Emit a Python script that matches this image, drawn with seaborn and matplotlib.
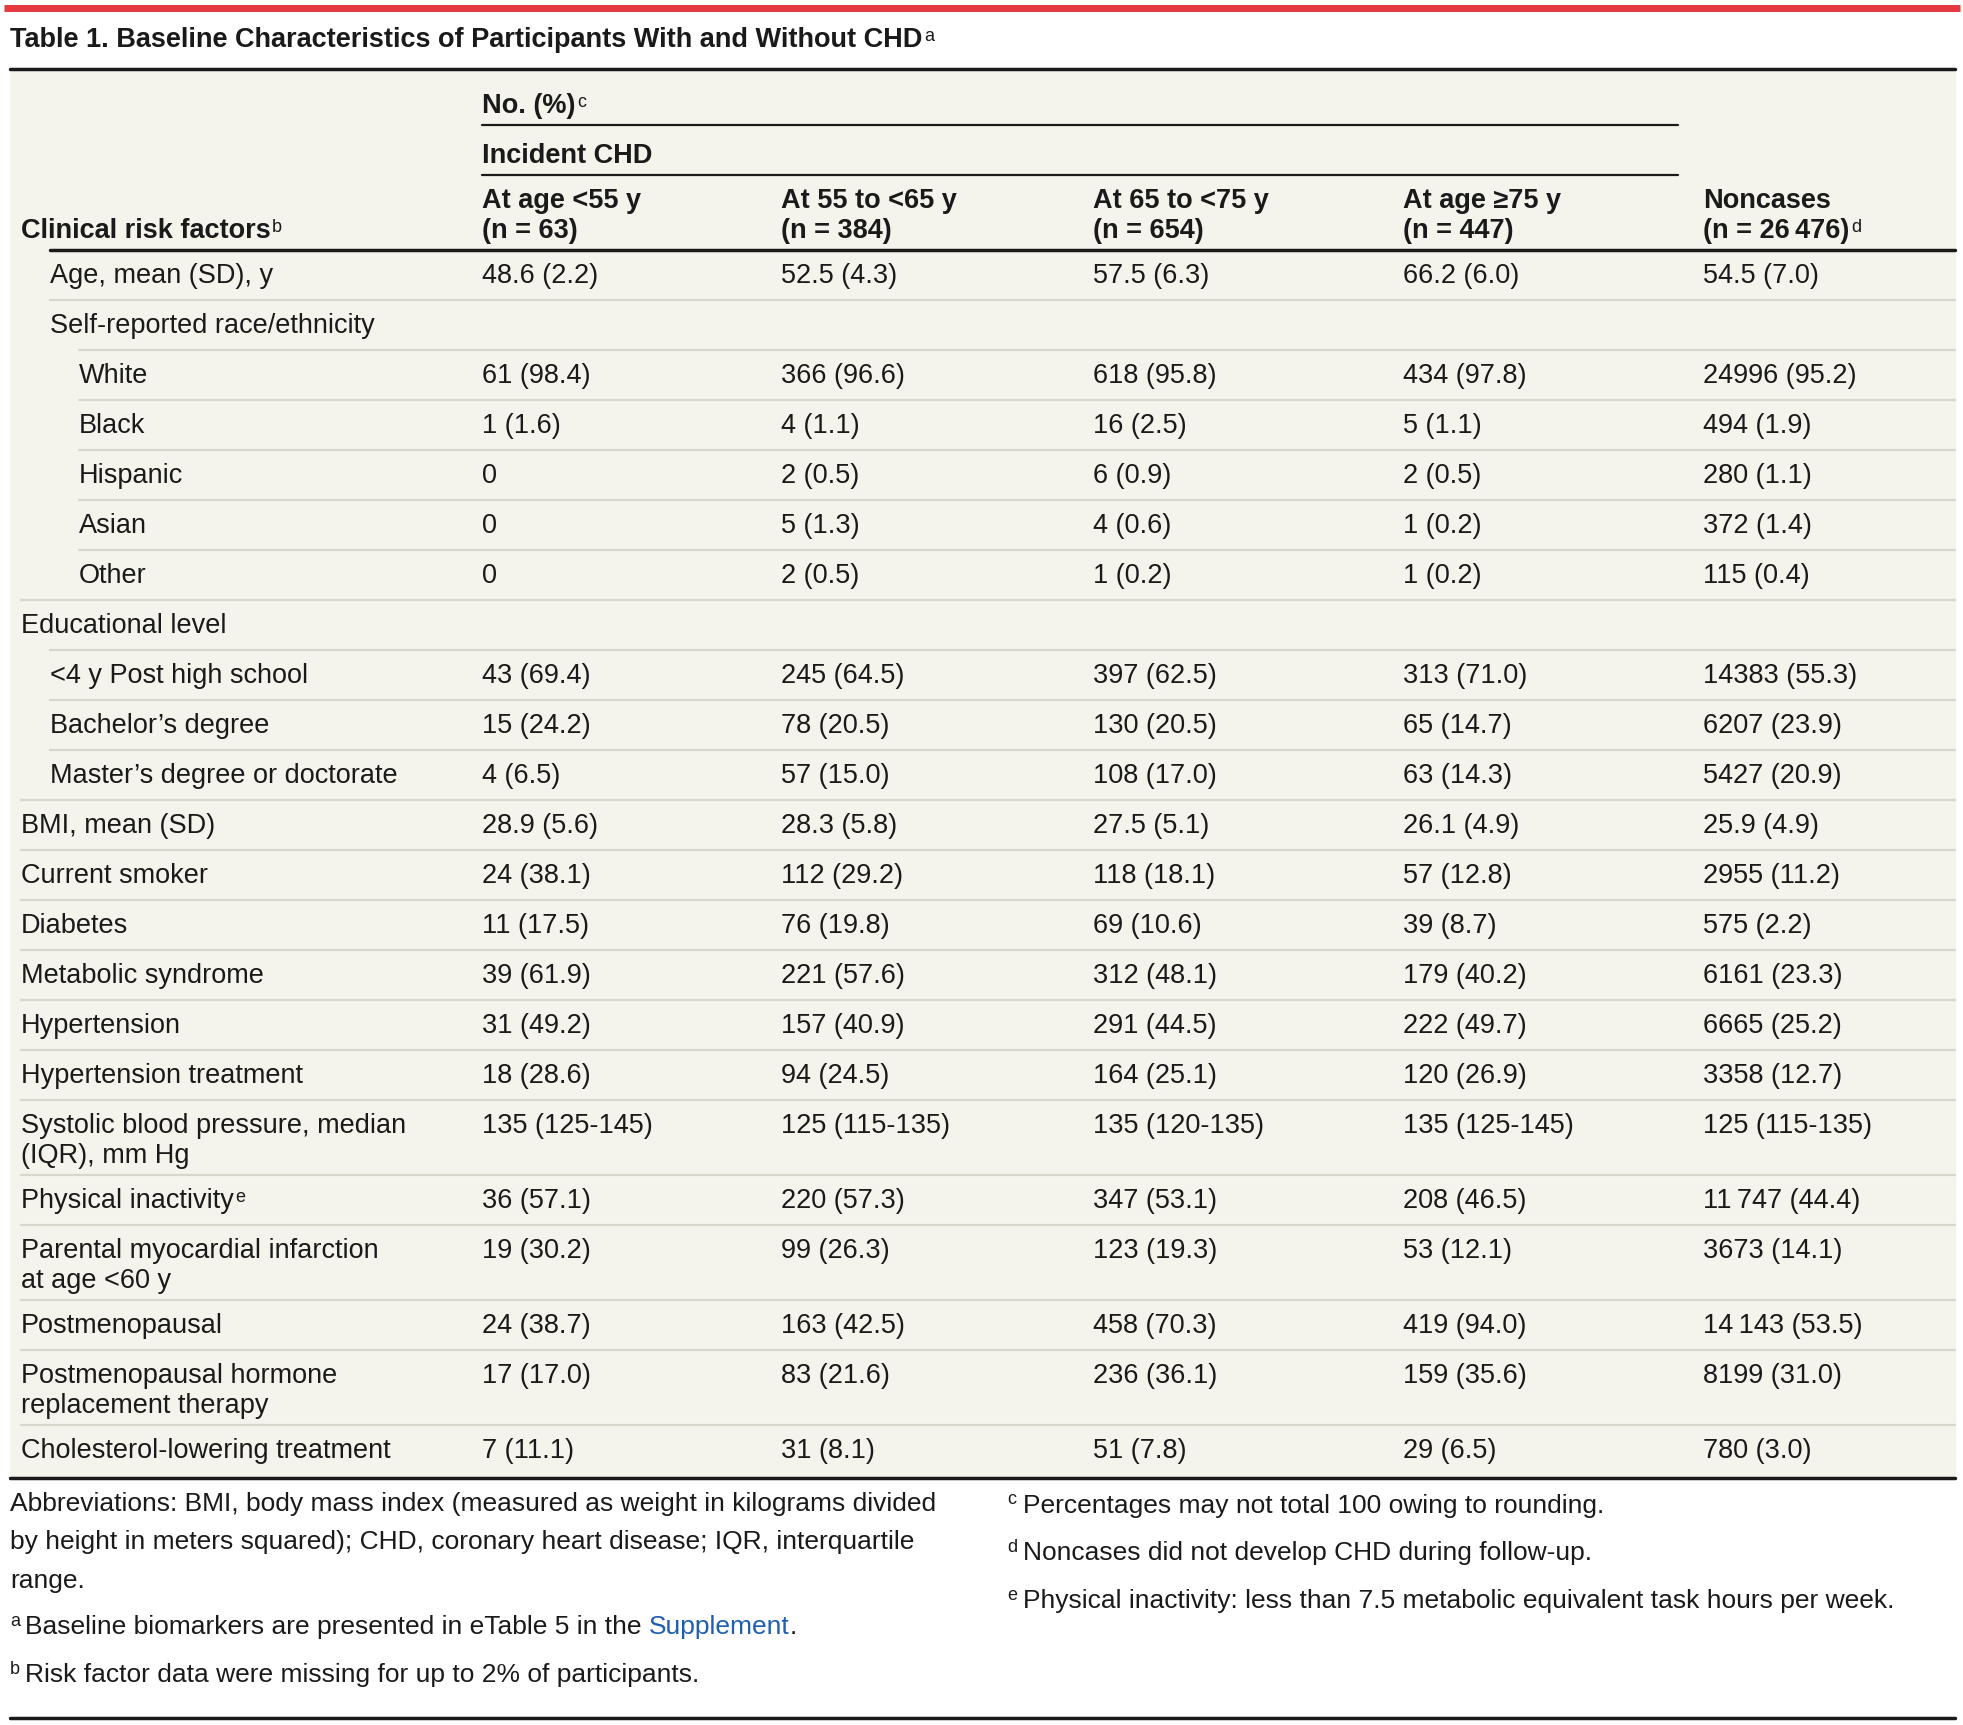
import matplotlib
matplotlib.use("Agg")
import matplotlib.pyplot as plt
import seaborn as sns
from matplotlib.patches import Rectangle

# table content
title = "Table 1. Baseline Characteristics of Participants With and Without CHD"
col_heads = ["At age <55 y\n(n = 63)", "At 55 to <65 y\n(n = 384)", "At 65 to <75 y\n(n = 654)",
             "At age \u226575 y\n(n = 447)", "Noncases\n(n = 26\u2009476)"]

row_labels = ["Age, mean (SD), y", "Self-reported race/ethnicity", "White", "Black", "Hispanic",
              "Asian", "Other", "Educational level", "<4 y Post high school", "Bachelor\u2019s degree",
              "Master\u2019s degree or doctorate", "BMI, mean (SD)", "Current smoker", "Diabetes",
              "Metabolic syndrome", "Hypertension", "Hypertension treatment",
              "Systolic blood pressure, median\n(IQR), mm Hg", "Physical inactivity",
              "Parental myocardial infarction\nat age <60 y", "Postmenopausal",
              "Postmenopausal hormone\nreplacement therapy", "Cholesterol-lowering treatment"]
row_levels = [1, 1, 2, 2, 2, 2, 2, 0, 1, 1, 1, 0, 0, 0, 0, 0, 0, 0, 0, 0, 0, 0, 0]
row_sups = {18: "e"}

chd_lt55 = ["48.6 (2.2)", "", "61 (98.4)", "1 (1.6)", "0", "0", "0", "", "43 (69.4)", "15 (24.2)",
            "4 (6.5)", "28.9 (5.6)", "24 (38.1)", "11 (17.5)", "39 (61.9)", "31 (49.2)", "18 (28.6)",
            "135 (125-145)", "36 (57.1)", "19 (30.2)", "24 (38.7)", "17 (17.0)", "7 (11.1)"]
chd_55_65 = ["52.5 (4.3)", "", "366 (96.6)", "4 (1.1)", "2 (0.5)", "5 (1.3)", "2 (0.5)", "", "245 (64.5)",
             "78 (20.5)", "57 (15.0)", "28.3 (5.8)", "112 (29.2)", "76 (19.8)", "221 (57.6)", "157 (40.9)",
             "94 (24.5)", "125 (115-135)", "220 (57.3)", "99 (26.3)", "163 (42.5)", "83 (21.6)", "31 (8.1)"]
chd_65_75 = ["57.5 (6.3)", "", "618 (95.8)", "16 (2.5)", "6 (0.9)", "4 (0.6)", "1 (0.2)", "", "397 (62.5)",
             "130 (20.5)", "108 (17.0)", "27.5 (5.1)", "118 (18.1)", "69 (10.6)", "312 (48.1)", "291 (44.5)",
             "164 (25.1)", "135 (120-135)", "347 (53.1)", "123 (19.3)", "458 (70.3)", "236 (36.1)", "51 (7.8)"]
chd_ge75 = ["66.2 (6.0)", "", "434 (97.8)", "5 (1.1)", "2 (0.5)", "1 (0.2)", "1 (0.2)", "", "313 (71.0)",
            "65 (14.7)", "63 (14.3)", "26.1 (4.9)", "57 (12.8)", "39 (8.7)", "179 (40.2)", "222 (49.7)",
            "120 (26.9)", "135 (125-145)", "208 (46.5)", "53 (12.1)", "419 (94.0)", "159 (35.6)", "29 (6.5)"]
noncases = ["54.5 (7.0)", "", "24996 (95.2)", "494 (1.9)", "280 (1.1)", "372 (1.4)", "115 (0.4)", "",
            "14383 (55.3)", "6207 (23.9)", "5427 (20.9)", "25.9 (4.9)", "2955 (11.2)", "575 (2.2)",
            "6161 (23.3)", "6665 (25.2)", "3358 (12.7)", "125 (115-135)", "11\u2009747 (44.4)",
            "3673 (14.1)", "14\u2009143 (53.5)", "8199 (31.0)", "780 (3.0)"]
columns = [chd_lt55, chd_55_65, chd_65_75, chd_ge75, noncases]

abbrev_lines = ["Abbreviations: BMI, body mass index (measured as weight in kilograms divided",
                "by height in meters squared); CHD, coronary heart disease; IQR, interquartile",
                "range."]
notes_left = [("a", "Baseline biomarkers are presented in eTable 5 in the "),
              ("b", "Risk factor data were missing for up to 2% of participants.")]
notes_right = [("c", "Percentages may not total 100 owing to rounding."),
               ("d", "Noncases did not develop CHD during follow-up."),
               ("e", "Physical inactivity: less than 7.5 metabolic equivalent task hours per week.")]

sns.set_theme(style="white")
plt.rcParams["font.family"] = ["Liberation Sans", "DejaVu Sans"]

BEIGE = "#f4f3ec"
GRID = "#d9d6cb"
INK = "#1a1a1a"
FS = 19.5
SUP = 13

fig = plt.figure(figsize=(19.63, 17.25), dpi=100)
ax = fig.add_axes([0, 0, 1, 1])
ax.set_xlim(0, 1963)
ax.set_ylim(1725, 0)
ax.axis("off")


def sup_after(art, s, dy=-1):
    return ax.annotate(s, xy=(1, 1), xycoords=art, xytext=(1, dy), textcoords="offset points",
                       ha="left", va="top", fontsize=SUP, color=INK)


# top rule + title
ax.plot([4, 1960], [8, 8], color="#e5383f", lw=5, solid_capstyle="butt")
t = ax.text(10, 40, title, fontsize=19.5, fontweight="bold", va="center", color=INK)
sup_after(t, "a")
ax.plot([10, 1955], [69, 69], color=INK, lw=2.5)

# table body
table_top, table_bot = 250, 1478
ax.add_patch(Rectangle((10, 69), 1945, table_bot - 69, color=BEIGE, zorder=0))

col_x = [482, 781, 1093, 1403, 1703]
lvl_x = [21, 50, 79]

t = ax.text(col_x[0], 106, "No. (%)", fontsize=FS, fontweight="bold", va="center", color=INK)
sup_after(t, "c")
ax.plot([col_x[0], 1678], [125, 125], color=INK, lw=1.6)
ax.text(col_x[0], 156, "Incident CHD", fontsize=FS, fontweight="bold", va="center", color=INK)
ax.plot([col_x[0], 1678], [175, 175], color=INK, lw=1.6)
for x, h in zip(col_x, col_heads):
    top, bot = h.split("\n")
    ax.text(x, 201, top, fontsize=FS, fontweight="bold", va="center", color=INK)
    b = ax.text(x, 231, bot, fontsize=FS, fontweight="bold", va="center", color=INK)
    if h.startswith("Noncases"):
        sup_after(b, "d")
t = ax.text(lvl_x[0], 231, "Clinical risk factors", fontsize=FS, fontweight="bold", va="center", color=INK)
sup_after(t, "b")
ax.plot([50, 1955], [table_top, table_top], color=INK, lw=2.5)

y = table_top
for i, lab in enumerate(row_labels):
    parts = lab.split("\n")
    h = 50 if len(parts) == 1 else 75
    if i > 0:
        ax.plot([lvl_x[row_levels[i]], 1955], [y, y], color=GRID, lw=1.6, zorder=1)
    for k, p in enumerate(parts):
        t = ax.text(lvl_x[row_levels[i]], y + 26 + 30 * k, p, fontsize=FS, va="center", color=INK)
    if i in row_sups:
        sup_after(t, row_sups[i])
    for x, col in zip(col_x, columns):
        ax.text(x, y + 26, col[i], fontsize=FS, va="center", color=INK)
    y += h
ax.plot([10, 1955], [table_bot, table_bot], color=INK, lw=2.5)

# footnotes
NF = 19
for line, yy in zip(abbrev_lines, [1504, 1542, 1581]):
    ax.text(10, yy, line, fontsize=NF, va="center", color=INK)
for (s, txt), yy in zip(notes_left, [1627, 1675]):
    ax.text(10, yy - 6, s, fontsize=SUP, va="center", color=INK)
    t = ax.text(25, yy, txt, fontsize=NF, va="center", color=INK)
    if s == "a":
        lnk = ax.annotate("Supplement", xy=(1, 0), xycoords=t, ha="left", va="bottom",
                          fontsize=NF, color="#1f5fae")
        ax.annotate(".", xy=(1, 0), xycoords=lnk, ha="left", va="bottom", fontsize=NF, color=INK)
for (s, txt), yy in zip(notes_right, [1506, 1553, 1601]):
    ax.text(1007, yy - 6, s, fontsize=SUP, va="center", color=INK)
    ax.text(1023, yy, txt, fontsize=NF, va="center", color=INK)
ax.plot([10, 1955], [1718, 1718], color=INK, lw=2.5)

fig.savefig("out.png", dpi=100, facecolor="white")
